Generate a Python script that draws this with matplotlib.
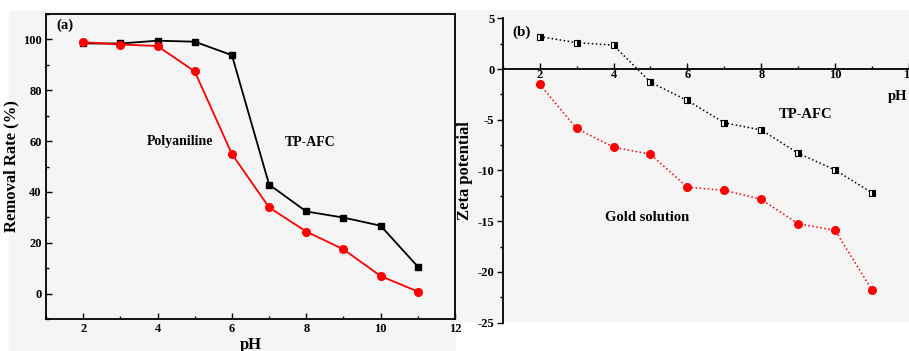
import matplotlib.pyplot as plt
from matplotlib.patches import Rectangle
from matplotlib.ticker import MultipleLocator

ph = [2, 3, 4, 5, 6, 7, 8, 9, 10, 11]
removal_tpafc = [98.4, 98.4, 99.5, 99.1, 93.8, 42.9, 32.3, 29.9, 26.7, 10.6]
removal_pani = [98.9, 98.0, 97.4, 87.4, 54.9, 33.9, 24.4, 17.4, 6.9, 0.8]
zeta_tpafc = [3.2, 2.6, 2.35, -1.3, -3.1, -5.3, -6.0, -8.3, -9.95, -12.2]
zeta_gold = [-1.5, -5.85, -7.7, -8.4, -11.65, -11.95, -12.85, -15.25, -15.9, -21.8]

plt.rcParams['font.family'] = 'Liberation Serif'
plt.rcParams['font.weight'] = 'bold'
plt.rcParams['axes.unicode_minus'] = False

W, H = 909, 351
fig = plt.figure(figsize=(9.09, 3.51), dpi=100)

# grey backgrounds of the two pasted panels
fig.patches.append(Rectangle((9 / W, 0), (455 - 9) / W, (351 - 11) / H,
                             transform=fig.transFigure, color='#f5f5f5', zorder=-5))
fig.patches.append(Rectangle((455 / W, (351 - 321) / H), (909 - 455) / W, (321 - 10) / H,
                             transform=fig.transFigure, color='#f5f5f5', zorder=-5))

# (a) removal rate
ax1 = fig.add_axes([46 / W, (351 - 319) / H, 409 / W, 305 / H])
ax1.set_facecolor('none')
ax1.plot(ph, removal_tpafc, color='black', marker='s', markersize=4.5, lw=1.3)
ax1.plot(ph, removal_pani, color='red', marker='o', markersize=5.5, lw=1.3)
ax1.set_xlim(1, 12)
ax1.set_ylim(-10, 110)
ax1.xaxis.set_major_locator(MultipleLocator(2))
ax1.xaxis.set_minor_locator(MultipleLocator(1))
ax1.yaxis.set_major_locator(MultipleLocator(20))
ax1.yaxis.set_minor_locator(MultipleLocator(10))
ax1.tick_params(which='both', direction='in', labelsize=9, width=1, pad=3)
ax1.tick_params(which='major', length=4)
ax1.tick_params(which='minor', length=2.5)
for s in ax1.spines.values():
    s.set_linewidth(1.3)
ax1.set_ylabel('Removal Rate (%)', fontsize=12, fontweight='bold', labelpad=3)
ax1.set_xlabel('pH', fontsize=12, fontweight='bold', labelpad=1)
ax1.text(1.5, 105.5, '(a)', fontsize=10.5, fontweight='bold', ha='center', va='center')
ax1.text(4.6, 59.7, 'Polyaniline', fontsize=10, fontweight='bold', ha='center', va='center')
ax1.text(8.1, 59.5, 'TP-AFC', fontsize=10, fontweight='bold', ha='center', va='center')

# (b) zeta potential
ax2 = fig.add_axes([502.7 / W, (351 - 322.7) / H, 406.3 / W, 304.4 / H])
ax2.set_facecolor('none')
ax2.plot(ph, zeta_tpafc, color='black', ls=':', lw=1.1, marker='s', markersize=4.5,
         fillstyle='right', markerfacecolor='black', markerfacecoloralt='white',
         markeredgecolor='black', markeredgewidth=0.8)
ax2.plot(ph, zeta_gold, color='red', ls=':', lw=1.1, marker='o', markersize=5.5)
ax2.set_xlim(1, 12)
ax2.set_ylim(-25, 5)
ax2.spines['top'].set_visible(False)
ax2.spines['right'].set_visible(False)
ax2.spines['bottom'].set_position(('data', 0))
ax2.spines['left'].set_linewidth(1.3)
ax2.spines['bottom'].set_linewidth(1.3)
ax2.xaxis.set_major_locator(MultipleLocator(2))
ax2.xaxis.set_minor_locator(MultipleLocator(1))
ax2.yaxis.set_major_locator(MultipleLocator(5))
ax2.yaxis.set_minor_locator(MultipleLocator(2.5))
ax2.tick_params(axis='x', which='both', direction='in', labelsize=9, pad=0)
ax2.tick_params(axis='y', which='both', direction='out', labelsize=9, pad=2)
ax2.tick_params(which='major', length=4, width=1)
ax2.tick_params(which='minor', length=2.5, width=1)
ax2.set_ylabel('Zeta potential', fontsize=12, fontweight='bold', labelpad=3)
ax2.text(11.7, -2.7, 'pH', fontsize=10.5, fontweight='bold', ha='center', va='center')
ax2.text(1.5, 3.6, '(b)', fontsize=11, fontweight='bold', ha='center', va='center')
ax2.text(9.2, -4.5, 'TP-AFC', fontsize=10.5, fontweight='bold', ha='center', va='center')
ax2.text(4.9, -14.6, 'Gold solution', fontsize=10.5, fontweight='bold', ha='center', va='center')

fig.savefig('out.png', dpi=100)
